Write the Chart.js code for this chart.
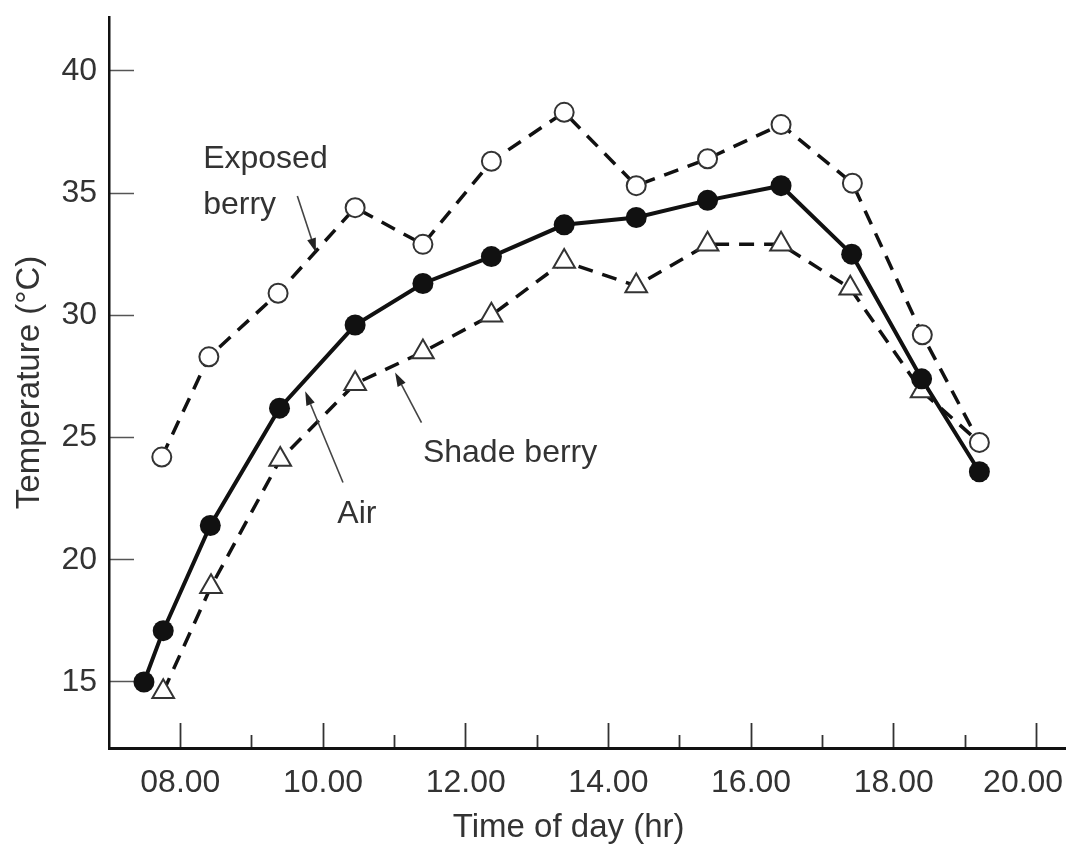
<!DOCTYPE html>
<html>
<head>
<meta charset="utf-8">
<script src="https://cdn.jsdelivr.net/npm/chart.js@4.4.0/dist/chart.umd.min.js"></script>
<style>
  html, body { margin: 0; padding: 0; background: #fff; }
  #wrap { width: 1072px; height: 846px; }
</style>
</head>
<body>
<div id="wrap"><canvas id="tempChart"></canvas></div>
<script>
// values: time of day in decimal hours, temperature in degC
var airTime = [7.49, 7.76, 8.42, 9.39, 10.45, 11.40, 12.36, 13.38, 14.39, 15.39, 16.42, 17.41, 18.39, 19.20];
var airTemp = [15.0, 17.1, 21.4, 26.2, 29.6, 31.3, 32.4, 33.7, 34.0, 34.7, 35.3, 32.5, 27.4, 23.6];
var exposedTime = [7.74, 8.40, 9.37, 10.45, 11.40, 12.36, 13.38, 14.39, 15.39, 16.42, 17.42, 18.40, 19.20];
var exposedTemp = [24.2, 28.3, 30.9, 34.4, 32.9, 36.3, 38.3, 35.3, 36.4, 37.8, 35.4, 29.2, 24.8];
var shadeTime = [7.76, 8.43, 9.40, 10.45, 11.40, 12.36, 13.38, 14.39, 15.39, 16.42, 17.39, 18.39, 19.20];
var shadeTemp = [14.6, 18.9, 24.1, 27.2, 28.5, 30.0, 32.2, 31.2, 32.9, 32.9, 31.1, 26.9, 24.8];

var xMajorTicks = [8, 10, 12, 14, 16, 18, 20];
var xMinorTicks = [9, 11, 13, 15, 17, 19];
var yTicks = [15, 20, 25, 30, 35, 40];

function toPoints(xs, ys) {
    return xs.map(function (x, i) { return { x: x, y: ys[i] }; });
}

var FONT = "'Liberation Sans', Arial, sans-serif";
var TEXT = '#333';

// labels and arrows inside the plot, placed in data units
var notes = [
    { text: 'Exposed', x: 8.32, y: 36.4 },
    { text: 'berry', x: 8.32, y: 34.5 },
    { text: 'Air', x: 10.2, y: 21.85 },
    { text: 'Shade berry', x: 11.40, y: 24.35 }
];
var arrows = [
    { x0: 9.64, y0: 34.88, x1: 9.90, y1: 32.58 },
    { x0: 10.28, y0: 23.16, x1: 9.75, y1: 26.89 },
    { x0: 11.38, y0: 25.61, x1: 11.01, y1: 27.66 }
];

var notePlugin = {
    id: 'notes',
    afterDatasetsDraw: function (chart) {
        var ctx = chart.ctx;
        var xs = chart.scales.x;
        var ys = chart.scales.y;
        ctx.save();
        ctx.fillStyle = TEXT;
        ctx.font = '32px ' + FONT;
        ctx.textAlign = 'left';
        ctx.textBaseline = 'middle';
        notes.forEach(function (n) {
            ctx.fillText(n.text, xs.getPixelForValue(n.x), ys.getPixelForValue(n.y));
        });
        ctx.strokeStyle = '#444';
        ctx.fillStyle = '#222';
        ctx.lineWidth = 1.6;
        arrows.forEach(function (a) {
            var px0 = xs.getPixelForValue(a.x0), py0 = ys.getPixelForValue(a.y0);
            var px1 = xs.getPixelForValue(a.x1), py1 = ys.getPixelForValue(a.y1);
            var ang = Math.atan2(py1 - py0, px1 - px0);
            var len = 14, half = 4.5;
            var bx = px1 - Math.cos(ang) * len, by = py1 - Math.sin(ang) * len;
            ctx.beginPath();
            ctx.moveTo(px0, py0);
            ctx.lineTo(bx, by);
            ctx.stroke();
            ctx.beginPath();
            ctx.moveTo(px1, py1);
            ctx.lineTo(bx - Math.sin(ang) * half, by + Math.cos(ang) * half);
            ctx.lineTo(bx + Math.sin(ang) * half, by - Math.cos(ang) * half);
            ctx.closePath();
            ctx.fill();
        });
        ctx.restore();
    }
};

function noPad(s) {
    s.paddingTop = 0;
    s.paddingBottom = 0;
    s.paddingLeft = 0;
    s.paddingRight = 0;
}

var chart = new Chart(document.getElementById('tempChart'), {
    type: 'scatter',
    data: {
        datasets: [
            {
                label: 'Air',
                data: toPoints(airTime, airTemp),
                showLine: true,
                borderColor: '#111',
                borderWidth: 4,
                pointRadius: 10.5,
                pointBackgroundColor: '#111',
                pointBorderColor: '#111',
                pointBorderWidth: 0
            },
            {
                label: 'Exposed berry',
                data: toPoints(exposedTime, exposedTemp),
                showLine: true,
                borderColor: '#111',
                borderWidth: 3.5,
                borderDash: [15, 10],
                pointRadius: 9.5,
                pointBackgroundColor: '#fff',
                pointBorderColor: '#333',
                pointBorderWidth: 2
            },
            {
                label: 'Shade berry',
                data: toPoints(shadeTime, shadeTemp),
                showLine: true,
                borderColor: '#111',
                borderWidth: 3.5,
                borderDash: [15, 10],
                pointStyle: 'triangle',
                pointRadius: function (c) { return c.dataIndex === shadeTemp.length - 1 ? 0 : 12.5; },
                pointBackgroundColor: '#fff',
                pointBorderColor: '#333',
                pointBorderWidth: 2
            }
        ]
    },
    options: {
        responsive: true,
        maintainAspectRatio: false,
        animation: false,
        events: [],
        layout: { autoPadding: false, padding: { left: 0, top: 17, right: 7, bottom: 0 } },
        plugins: {
            legend: { display: false },
            tooltip: { enabled: false }
        },
        scales: {
            x: {
                type: 'linear',
                position: 'bottom',
                weight: 1,
                min: 7.0,
                max: 20.4,
                afterBuildTicks: function (s) { s.ticks = xMajorTicks.map(function (v) { return { value: v }; }); },
                afterFit: function (s) { s.height = 98; noPad(s); },
                border: { display: true, color: '#111', width: 3 },
                grid: { drawOnChartArea: false, drawTicks: true, tickLength: -25, tickColor: '#333', tickWidth: 1.8 },
                ticks: {
                    padding: 41,
                    color: TEXT,
                    font: { family: FONT, size: 32 },
                    maxRotation: 0,
                    callback: function (v) {
                        var s = (v < 10 ? '0' : '') + v + '.00';
                        // the last label sits a little left of its tick so it stays inside the figure
                        return v === 20 ? s + '   ' : s;
                    }
                },
                title: {
                    display: true,
                    // trailing spaces nudge the centred title a little left, as in the figure
                    text: 'Time of day (hr)    ',
                    color: TEXT,
                    font: { family: FONT, size: 33, lineHeight: 1.1 },
                    padding: { top: 0, bottom: 0 }
                }
            },
            xMinor: {
                type: 'linear',
                position: 'bottom',
                weight: 0,
                min: 7.0,
                max: 20.4,
                afterBuildTicks: function (s) { s.ticks = xMinorTicks.map(function (v) { return { value: v }; }); },
                afterFit: function (s) { s.height = 0; noPad(s); },
                border: { display: false },
                grid: { drawOnChartArea: false, drawTicks: true, tickLength: -13, tickColor: '#333', tickWidth: 1.8 },
                ticks: { callback: function () { return ''; } }
            },
            y: {
                type: 'linear',
                position: 'left',
                min: 12.3,
                max: 42.2,
                afterBuildTicks: function (s) { s.ticks = yTicks.map(function (v) { return { value: v }; }); },
                afterFit: function (s) { s.width = 109; noPad(s); },
                border: { display: true, color: '#111', width: 2.5 },
                grid: { drawOnChartArea: false, drawTicks: true, tickLength: -25, tickColor: '#555', tickWidth: 1.5 },
                ticks: {
                    padding: 37,
                    color: TEXT,
                    font: { family: FONT, size: 32 }
                },
                title: {
                    display: true,
                    text: 'Temperature (°C)',
                    color: TEXT,
                    font: { family: FONT, size: 33, lineHeight: 1.2 },
                    padding: { top: 10, bottom: 0 }
                }
            }
        }
    },
    plugins: [notePlugin]
});
</script>
</body>
</html>
